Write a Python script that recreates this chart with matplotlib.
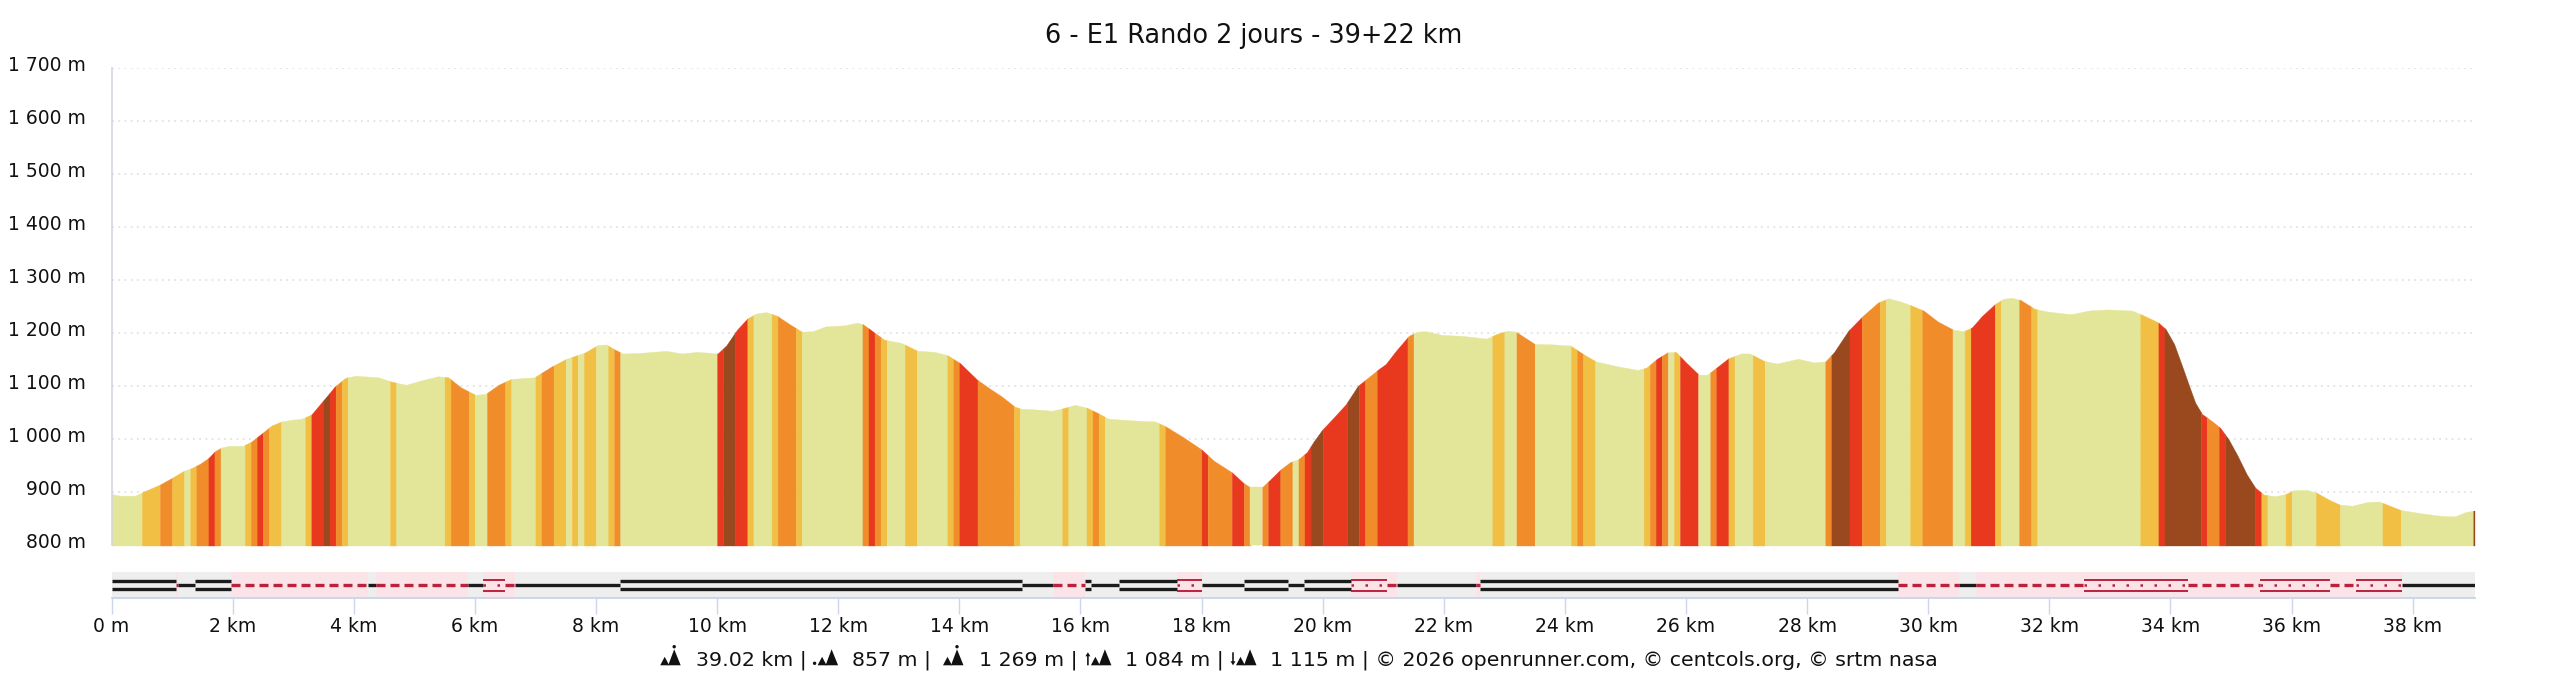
import numpy as np
import matplotlib
matplotlib.use("Agg")
import matplotlib.pyplot as plt
from matplotlib.patches import Polygon, Circle
from matplotlib.transforms import ScaledTranslation

TITLE = "6 - E1 Rando 2 jours - 39+22 km"

# elevation profile
profile_km = [0.0, .14, .39, .52, .80, .99, 1.18, 1.32, 1.46, 1.60, 1.71, 1.82, 1.95, 2.17, 2.31, 2.50, 2.64, 2.81,
              2.97, 3.14, 3.30, 3.47, 3.61, 3.68, 3.86, 4.03, 4.41, 4.62, 4.86, 5.11, 5.39, 5.56, 5.77, 6.01, 6.18,
              6.39, 6.60, 6.98, 7.26, 7.51, 7.82, 8.03, 8.17, 8.30, 8.44, 8.72, 9.15, 9.42, 9.67, 10.01, 10.15, 10.33,
              10.50, 10.64, 10.81, 10.99, 11.20, 11.40, 11.58, 11.79, 12.10, 12.31, 12.41, 12.59, 12.76, 13.04, 13.31,
              13.59, 13.80, 14.01, 14.29, 14.50, 14.70, 14.91, 15.02, 15.33, 15.53, 15.72, 15.91, 16.10, 16.30, 16.46,
              16.71, 16.99, 17.23, 17.40, 17.70, 18.00, 18.20, 18.50, 18.69, 18.80, 19.00, 19.13, 19.30, 19.46, 19.60,
              19.74, 19.85, 19.99, 20.18, 20.38, 20.58, 20.69, 20.93, 21.04, 21.21, 21.42, 21.56, 21.70, 21.97, 22.32,
              22.70, 22.88, 23.05, 23.19, 23.50, 23.81, 24.09, 24.30, 24.51, 24.86, 25.20, 25.34, 25.52, 25.69, 25.83,
              26.00, 26.21, 26.35, 26.52, 26.70, 26.91, 27.05, 27.29, 27.50, 27.85, 28.12, 28.30, 28.44, 28.68, 28.92,
              29.17, 29.34, 29.54, 29.71, 29.92, 30.16, 30.41, 30.58, 30.72, 30.89, 31.10, 31.24, 31.38, 31.52, 31.76,
              31.97, 32.35, 32.66, 32.94, 33.36, 33.53, 33.79, 33.92, 34.06, 34.19, 34.33, 34.41, 34.52, 34.69, 34.82,
              34.96, 35.10, 35.26, 35.40, 35.54, 35.73, 35.90, 36.03, 36.25, 36.42, 36.64, 36.80, 37.00, 37.25, 37.44,
              37.58, 37.80, 38.13, 38.46, 38.70, 38.87, 39.02]
profile_m = [897, 894, 894, 901, 915, 927, 940, 946, 954, 965, 978, 985, 988, 988, 996, 1013, 1026, 1034,
             1037, 1039, 1047, 1070, 1089, 1099, 1116, 1120, 1117, 1109, 1103, 1111, 1119, 1117, 1098, 1084, 1086,
             1103, 1114, 1117, 1137, 1152, 1164, 1178, 1179, 1170, 1162, 1163, 1167, 1162, 1165, 1162, 1177, 1207,
             1228, 1237, 1240, 1233, 1217, 1203, 1204, 1213, 1215, 1220, 1217, 1202, 1188, 1182, 1167,
             1165, 1159, 1144, 1113, 1096, 1081, 1062, 1058, 1056, 1054, 1059, 1065, 1060, 1049, 1039,
             1037, 1035, 1034, 1025, 1004, 981, 960, 938, 918, 910, 910, 924, 943, 957, 963,
             976, 996, 1018, 1041, 1066, 1101, 1111, 1133, 1142, 1167, 1195, 1203, 1204, 1197, 1195,
             1190, 1199, 1205, 1203, 1180, 1179, 1177, 1161, 1147, 1138, 1131, 1135, 1152, 1164, 1165,
             1145, 1122, 1122, 1137, 1153, 1162, 1162, 1148, 1143, 1152, 1145, 1147, 1164, 1205, 1233,
             1258, 1266, 1260, 1253, 1243, 1222, 1207, 1204, 1211, 1233, 1255, 1265, 1267, 1263, 1246,
             1241, 1236, 1243, 1245, 1243, 1235, 1221, 1208, 1180, 1139, 1094, 1069, 1048, 1034, 1022,
             1000, 971, 934, 909, 896, 893, 897, 904, 905, 899, 885, 877, 875, 882, 883,
             877, 867, 861, 856, 855, 863, 866]

# slope stripes: end of each stretch (km) and its class
slope_ends = [0.5, 0.8, 1.0, 1.2, 1.3, 1.4, 1.6, 1.7, 1.8, 2.2, 2.3, 2.4, 2.5, 2.6, 2.8, 3.2, 3.3, 3.5, 3.6, 3.7, 3.8,
              3.9, 4.6, 4.7, 5.5, 5.6, 5.9, 6.0, 6.2, 6.5, 6.6, 7.0, 7.1, 7.3, 7.5, 7.6, 7.7, 7.8, 8.0, 8.2, 8.3, 8.4,
              10.0, 10.1, 10.3, 10.5, 10.6, 10.9, 11.0, 11.3, 11.4, 12.4, 12.5, 12.6, 12.7, 12.8, 13.1, 13.3, 13.8,
              13.9, 14.0, 14.3, 14.9, 15.0, 15.7, 15.8, 16.1, 16.2, 16.3, 16.4, 17.3, 17.4, 18.0, 18.1, 18.5, 18.7,
              18.8, 19.0, 19.1, 19.3, 19.5, 19.6, 19.7, 19.8, 20.0, 20.4, 20.6, 20.7, 20.9, 21.4, 21.5, 22.8, 23.0,
              23.2, 23.5, 24.1, 24.2, 24.3, 24.5, 25.3, 25.4, 25.5, 25.6, 25.7, 25.8, 25.9, 26.2, 26.4, 26.5, 26.7,
              26.8, 27.1, 27.3, 28.3, 28.4, 28.7, 28.9, 29.2, 29.3, 29.7, 29.9, 30.4, 30.6, 30.7, 31.1, 31.2, 31.5,
              31.7, 31.8, 33.5, 33.8, 33.9, 34.5, 34.6, 34.8, 34.9, 35.4, 35.5, 35.6, 35.9, 36.0, 36.4, 36.8, 37.5,
              37.8, 39.0, 39.02]
slope_classes = ("P Y O Y P Y O R O P Y O R O Y P Y R B R O Y P Y P Y O Y P O Y P Y O Y P Y P Y P Y O "
                 "P R B R Y P Y O Y P O R O Y P Y P Y O R O Y P Y P Y O Y P Y O R O R O P O R O P O R B R B R O R O "
                 "P Y P O P Y O Y P Y O R O P Y R P O R Y P Y P O B R O Y P Y O P Y R Y P O Y "
                 "P Y R B R O R B R Y P Y P Y P Y P B").split()
assert len(slope_ends) == len(slope_classes), (len(slope_ends), len(slope_classes))

slope_colors = {"P": "#E3E698", "Y": "#F1BF43", "O": "#F08D2A", "R": "#E8381D", "B": "#9A491E"}

# track surface strip: end of each stretch (km) and its kind
track_ends = [1.07, 1.09, 1.38, 1.98, 4.24, 4.36, 5.89, 6.13, 6.50, 6.67, 8.40, 15.04, 15.54, 16.07, 16.17, 16.64,
              17.59, 18.00, 18.70, 19.42, 19.69, 20.46, 21.06, 21.23, 22.53, 22.59, 29.50, 30.50, 30.79, 32.57,
              34.29, 35.48, 36.64, 37.07, 37.82, 39.02]
track_kinds = ["road2", "dash", "road", "road2", "dash", "road", "dash", "road", "path", "dash", "road", "road2",
               "road", "dash", "road2", "road", "road2", "path", "road", "road2", "road", "road2", "path", "dash",
               "road", "dash", "road2", "dash", "road", "dash", "path", "dash", "path", "dash", "path", "road"]

y_ticks = [800, 900, 1000, 1100, 1200, 1300, 1400, 1500, 1600, 1700]
y_labels = ["800 m", "900 m", "1 000 m", "1 100 m", "1 200 m", "1 300 m", "1 400 m", "1 500 m", "1 600 m", "1 700 m"]
x_ticks = list(range(0, 39, 2))
x_labels = ["0 m"] + [f"{k} km" for k in x_ticks[1:]]

summary_stats = ["39.02 km |", "857 m |", "1 269 m |", "1 084 m |",
                 "1 115 m | © 2026 openrunner.com, © centcols.org, © srtm nasa"]

W, H = 2560, 683
AXIS = "#ccd6eb"
TEXT = "#111111"
TOTAL = 39.02

fig = plt.figure(figsize=(W / 100, H / 100), dpi=100, facecolor="white")


def px_axes(x0, x1, y_top, y_bottom):
    return fig.add_axes([x0 / W, 1 - y_bottom / H, (x1 - x0) / W, (y_bottom - y_top) / H])


# main profile
ax = px_axes(111.5, 2474.5, 68, 545.5)
ax.set_xlim(0, TOTAL)
ax.set_ylim(800, 1700)
ax.set_xticks([])
ax.set_yticks(y_ticks)
ax.set_yticklabels(y_labels)
ax.tick_params(axis="y", length=0, pad=18.2, labelsize=13.5, labelcolor=TEXT)
offset = ScaledTranslation(0, 4.5 / 100, fig.dpi_scale_trans)
for lab in ax.get_yticklabels():
    lab.set_transform(lab.get_transform() + offset)
ax.grid(axis="y", color="#e6e6e6", lw=1.4, linestyle=(0, (1.0, 2.2)), zorder=0)
ax.set_axisbelow(True)
for side in ("top", "right", "bottom"):
    ax.spines[side].set_visible(False)
ax.spines["left"].set_color("#cfd3de")
ax.spines["left"].set_linewidth(1.1)

prof_x = np.array(profile_km)
prof_y = np.array(profile_m)
start = 0.0
for end, cls in zip(slope_ends, slope_classes):
    inside = prof_x[(prof_x > start) & (prof_x < end)]
    xs = np.concatenate(([start], inside, [end]))
    ys = np.interp(xs, prof_x, prof_y)
    ax.fill_between(xs, 800, ys, facecolor=slope_colors[cls], edgecolor=slope_colors[cls], lw=0.25, zorder=2)
    start = end

# track strip
st = px_axes(111.5, 2474.5, 572, 598)
st.set_xlim(0, TOTAL)
st.set_ylim(0, 1)
st.set_facecolor("#eeeeee")
st.set_yticks([])
st.set_xticks(x_ticks)
st.set_xticklabels(x_labels)
st.tick_params(axis="x", length=11.5, width=1.0, color=AXIS, pad=2.5, labelsize=13.5, labelcolor=TEXT)
for side in ("top", "right", "left"):
    st.spines[side].set_visible(False)
st.spines["bottom"].set_color(AXIS)
st.spines["bottom"].set_linewidth(1.4)

BLACK = "#1b1b1b"
CRIMSON = "#b9213f"
start = 0.0
for end, kind in zip(track_ends, track_kinds):
    seg = [start, end]
    if kind in ("dash", "path"):
        st.axvspan(start, end, color="#fbe4e8", lw=0, zorder=1)
    if kind == "road":
        st.plot(seg, [.49, .49], color=BLACK, lw=2.4, solid_capstyle="butt", zorder=3)
    elif kind == "road2":
        for yy in (.64, .346):
            st.plot(seg, [yy, yy], color=BLACK, lw=2.4, solid_capstyle="butt", zorder=3)
    elif kind == "dash":
        st.plot(seg, [.49, .49], color=CRIMSON, lw=2.4, linestyle=(0, (2.7, 1.5)), dash_capstyle="butt", zorder=3)
    elif kind == "path":
        for yy in (.69, .27):
            st.plot(seg, [yy, yy], color=CRIMSON, lw=1.4, solid_capstyle="butt", zorder=3)
        st.plot(seg, [.49, .49], color=CRIMSON, lw=1.8, linestyle=(0, (1.0, 4.6)), dash_capstyle="butt", zorder=3)
    start = end

# overlay in pixel coordinates for title and footer
ov = fig.add_axes([0, 0, 1, 1], facecolor="none")
ov.set_xlim(0, W)
ov.set_ylim(H, 0)
ov.axis("off")
ov.text(1254, 36, TITLE, ha="center", va="center", fontsize=18.4, color=TEXT)

BASE = 665.3


def peaks(x0):
    ov.add_patch(Polygon([(x0, BASE), (x0 + 4.5, BASE - 8.5), (x0 + 9, BASE)], color="#111111", lw=0))
    ov.add_patch(Polygon([(x0 + 8, BASE), (x0 + 14, BASE - 16), (x0 + 20.5, BASE)], color="#111111", lw=0))


def icon(x0, kind):
    if kind == "top":
        peaks(x0)
        ov.add_patch(Circle((x0 + 14, BASE - 18.6), 1.7, color="#111111", lw=0))
    elif kind == "low":
        peaks(x0 + 5)
        ov.add_patch(Circle((x0 + 2, BASE - 2), 1.7, color="#111111", lw=0))
    elif kind == "up":
        peaks(x0 + 6)
        ov.add_patch(Polygon([(x0 + 0.5, BASE - 9), (x0 + 3, BASE - 13), (x0 + 5.5, BASE - 9), (x0 + 3.8, BASE - 9),
                              (x0 + 3.8, BASE), (x0 + 2.2, BASE), (x0 + 2.2, BASE - 9)], color="#111111", lw=0))
    elif kind == "down":
        peaks(x0 + 6)
        ov.add_patch(Polygon([(x0 + 0.5, BASE - 4), (x0 + 3, BASE), (x0 + 5.5, BASE - 4), (x0 + 3.8, BASE - 4),
                              (x0 + 3.8, BASE - 13), (x0 + 2.2, BASE - 13), (x0 + 2.2, BASE - 4)], color="#111111", lw=0))


icon_pos = [(660.2, "top"), (812.6, "low"), (943, "top"), (1084.9, "up"), (1230, "down")]
text_pos = [695.6, 852.5, 978.8, 1124.8, 1270]
for (ix, kind), tx, label in zip(icon_pos, text_pos, summary_stats):
    icon(ix, kind)
    ov.text(tx, BASE, label, ha="left", va="baseline", fontsize=14.75, color=TEXT)

fig.savefig("out.png", dpi=100, facecolor="white")
